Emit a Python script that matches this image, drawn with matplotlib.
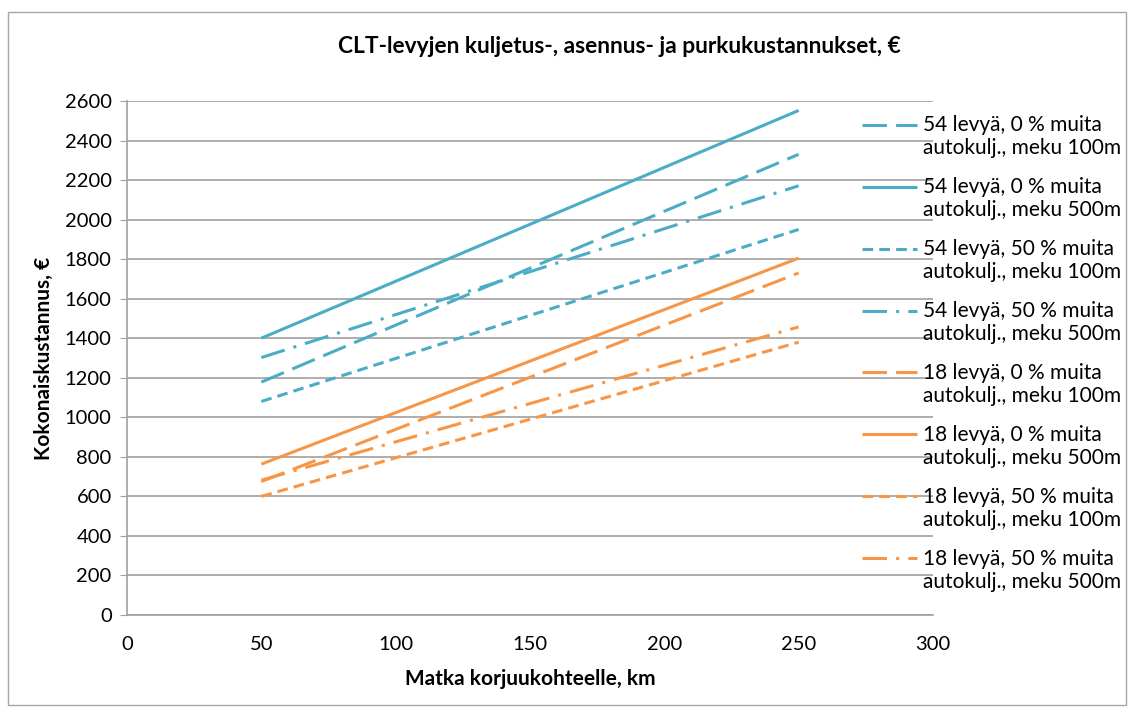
import matplotlib.pyplot as plt
from matplotlib.patches import Rectangle

plt.rcParams['font.family'] = ['Lato', 'DejaVu Sans']

# data
x = [50, 250]
labels = ['54 levyä, 0 % muita\nautokulj., meku 100m',
          '54 levyä, 0 % muita\nautokulj., meku 500m',
          '54 levyä, 50 % muita\nautokulj., meku 100m',
          '54 levyä, 50 % muita\nautokulj., meku 500m',
          '18 levyä, 0 % muita\nautokulj., meku 100m',
          '18 levyä, 0 % muita\nautokulj., meku 500m',
          '18 levyä, 50 % muita\nautokulj., meku 100m',
          '18 levyä, 50 % muita\nautokulj., meku 500m']
values = [[1178, 2330],
          [1400, 2552],
          [1080, 1950],
          [1302, 2171],
          [675, 1730],
          [763, 1805],
          [600, 1380],
          [682, 1457]]

blue = '#4BACC6'
orange = '#F79646'
colors = [blue] * 4 + [orange] * 4
dashes = [(8, 3), None, (3.5, 2), (8, 3, 1, 3)] * 2

fig = plt.figure(figsize=(11.32, 7.09), dpi=100)
ax = fig.add_axes([0.1122, 0.1326, 0.712, 0.725])

for lab, v, c, d in zip(labels, values, colors, dashes):
    if d is None:
        ax.plot(x, v, color=c, lw=2.2, label=lab, solid_capstyle='butt')
    else:
        ax.plot(x, v, color=c, lw=2.2, label=lab, dashes=d, dash_capstyle='butt')

ax.set_xlim(0, 300)
ax.set_ylim(0, 2600)
ax.set_xticks(range(0, 301, 50))
ax.set_yticks(range(0, 2601, 200))
ax.grid(axis='y', color='#A0A0A0', lw=1.2)
ax.set_axisbelow(True)
for s in ['top', 'right']:
    ax.spines[s].set_visible(False)
for s in ['left', 'bottom']:
    ax.spines[s].set_color('#A0A0A0')
    ax.spines[s].set_linewidth(1.2)
ax.tick_params(axis='y', length=5, color='#A0A0A0', labelsize=14.5, pad=6)
ax.tick_params(axis='x', length=0, labelsize=14.5, pad=15)

ax.set_xlabel('Matka korjuukohteelle, km', fontsize=15, fontweight='bold', labelpad=12)
ax.set_ylabel('Kokonaiskustannus, €', fontsize=15, fontweight='bold', labelpad=8)
fig.text(0.547, 0.934, 'CLT-levyjen kuljetus-, asennus- ja purkukustannukset, €',
         ha='center', va='center', fontsize=16.4, fontweight='bold')

leg = fig.legend(loc='upper left', bbox_to_anchor=(0.7615, 0.838), frameon=False,
                 fontsize=15, handlelength=2.65, handletextpad=0.29,
                 labelspacing=0.9, borderpad=0, borderaxespad=0)
# put the key lines next to the first text line
for h in leg.legend_handles:
    h.set_ydata([yy + 9 for yy in h.get_ydata()])

fig.patches.append(Rectangle((0.007, 0.005), 0.988, 0.978, transform=fig.transFigure,
                             fill=False, edgecolor='#A6A6A6', lw=1))

fig.savefig('out.png', dpi=100)
